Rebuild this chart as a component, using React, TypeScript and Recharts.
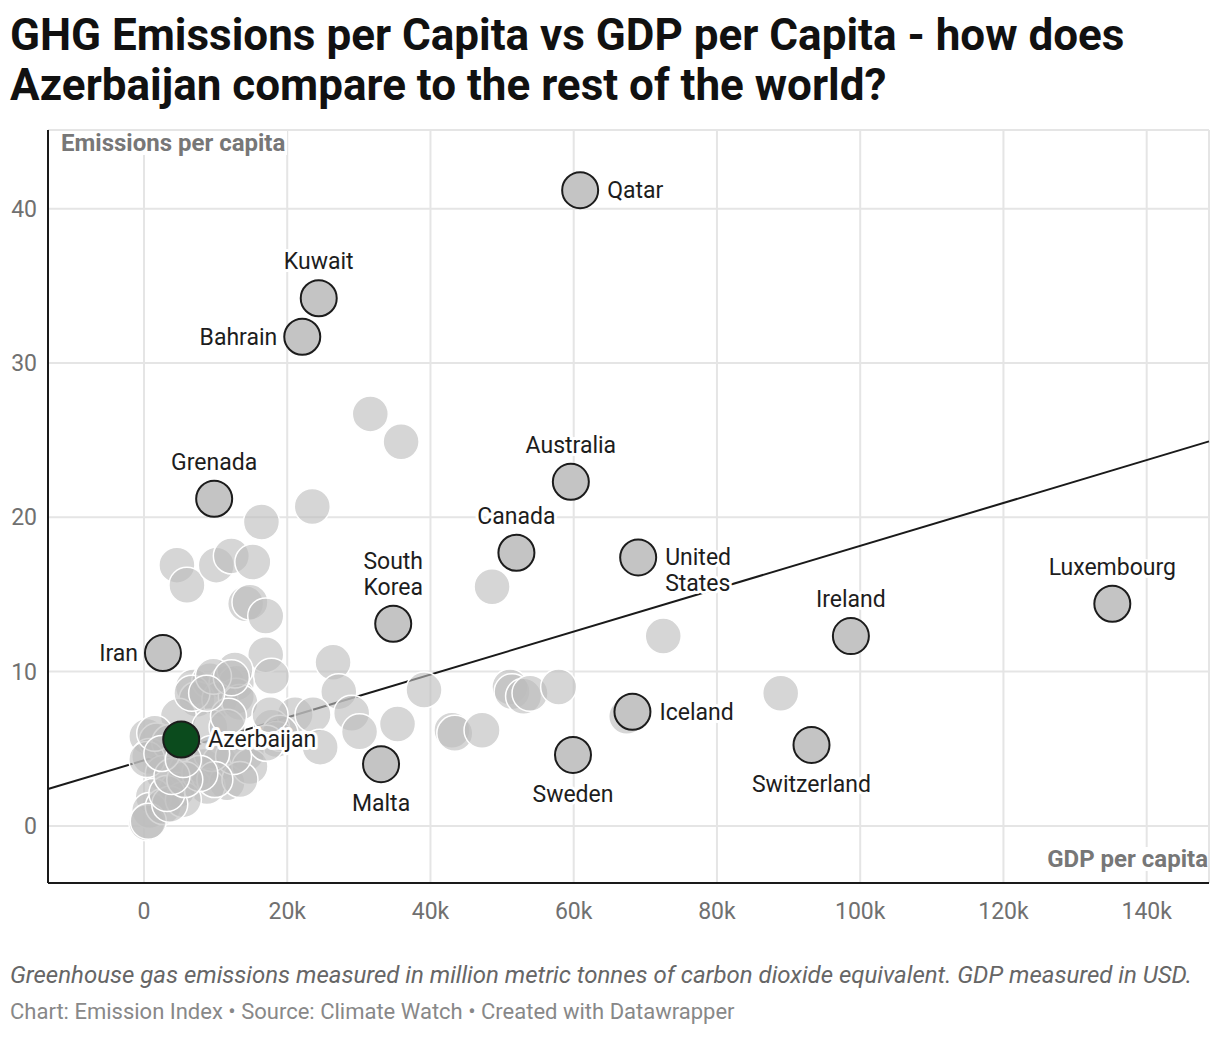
import { ScatterChart, Scatter, XAxis, YAxis, CartesianGrid, ReferenceLine } from "recharts";

// highlighted countries (GDP per capita in USD, emissions per capita)
const HIGHLIGHT_NAMES = [
  "Qatar", "Kuwait", "Bahrain", "Australia", "Grenada", "Canada", "United States",
  "South Korea", "Iran", "Luxembourg", "Ireland", "Iceland", "Switzerland", "Sweden", "Malta",
];
const HIGHLIGHT_GDP = [
  60900, 24400, 22100, 59600, 9800, 52000, 69000, 34800, 2650, 135200, 98700, 68200, 93200, 59900, 33100,
];
const HIGHLIGHT_EMISSIONS = [41.2, 34.2, 31.7, 22.3, 21.2, 17.7, 17.4, 13.1, 11.2, 14.4, 12.3, 7.4, 5.25, 4.6, 4.0];

const FOCUS_NAME = "Azerbaijan";
const FOCUS_GDP = 5200;
const FOCUS_EMISSIONS = 5.6;

// rest of the world (GDP per capita in thousand USD)
const OTHER_GDP_K = [
  31.6, 35.9, 23.5, 16.4, 4.6, 6.0, 10.1, 12.2, 15.2, 14.2, 14.8, 17.0, 17.0, 17.8, 26.4, 48.6, 27.2, 29.0, 30.1,
  39.1, 35.4, 43.0, 43.4, 47.2, 51.1, 51.4, 53.0, 53.9, 57.9, 21.1, 23.6, 24.6, 72.5, 88.9, 67.4, 17.8, 18.5, 19.0,
  6.9, 9.2, 11.6, 12.9, 7.4, 10.6, 12.9, 13.4, 4.8, 9.2, 11.6, 0.4, 1.8, 0.8, 3.6, 2.7, 6.0, 8.3, 10.6, 11.6, 8.8,
  4.6, 1.3, 0.8, 0.4, 2.7, 5.5, 14.3, 14.8, 13.4, 17.1, 12.5, 9.45, 12.7, 0.4, 1.5, 6.7, 9.7, 12.2, 0.6, 3.6, 3.2,
  9.9, 7.8, 5.7, 3.9, 11.8, 8.75, 17.6, 2.5, 5.5,
];
const OTHER_EMISSIONS = [
  26.7, 24.9, 20.7, 19.7, 16.9, 15.6, 16.9, 17.5, 17.1, 14.4, 14.5, 13.6, 11.1, 9.7, 10.6, 15.5, 8.7, 7.3, 6.1,
  8.8, 6.6, 6.2, 6.0, 6.2, 9.0, 8.7, 8.4, 8.6, 9.0, 7.2, 7.2, 5.1, 12.3, 8.6, 7.1, 6.4, 5.6, 6.0,
  9.0, 9.4, 9.25, 9.25, 8.2, 8.2, 8.4, 8.0, 7.1, 6.4, 6.4, 5.8, 5.5, 4.5, 5.4, 3.4, 3.6, 3.85, 4.1, 2.8, 2.55,
  2.3, 1.9, 1.0, 0.2, 1.25, 1.7, 4.7, 3.85, 3.0, 5.35, 4.5, 4.7, 10.1, 4.3, 6.0, 8.6, 9.7, 9.6, 0.3, 1.4, 2.1,
  3.0, 3.4, 3.0, 3.2, 7.1, 8.6, 7.2, 4.7, 4.3,
];

const X_TICKS = [0, 20000, 40000, 60000, 80000, 100000, 120000, 140000];
const Y_TICKS = [0, 10, 20, 30, 40];
const X_DOMAIN = [-13400, 148700];
const Y_DOMAIN = [-3.7, 45.1];

// linear trend line
const TREND_INTERCEPT = 4.25;
const TREND_SLOPE_PER_K = 0.139;

type Place = { pos: "top" | "bottom" | "left" | "right"; lines?: string[] };
const LABEL_PLACE: Record<string, Place> = {
  Qatar: { pos: "right" },
  Kuwait: { pos: "top" },
  Bahrain: { pos: "left" },
  Australia: { pos: "top" },
  Grenada: { pos: "top" },
  Canada: { pos: "top" },
  "United States": { pos: "right", lines: ["United", "States"] },
  "South Korea": { pos: "top", lines: ["South", "Korea"] },
  Iran: { pos: "left" },
  Luxembourg: { pos: "top" },
  Ireland: { pos: "top" },
  Iceland: { pos: "right" },
  Switzerland: { pos: "bottom" },
  Sweden: { pos: "bottom" },
  Malta: { pos: "bottom" },
  Azerbaijan: { pos: "right" },
};

const others = OTHER_GDP_K.map((g, i) => ({ gdp: g * 1000, emissions: OTHER_EMISSIONS[i] }));
const highlighted = HIGHLIGHT_NAMES.map((name, i) => ({
  name,
  gdp: HIGHLIGHT_GDP[i],
  emissions: HIGHLIGHT_EMISSIONS[i],
}));
const focus = [{ name: FOCUS_NAME, gdp: FOCUS_GDP, emissions: FOCUS_EMISSIONS }];
const labelled = [...highlighted, ...focus];

const trendAt = (gdp: number) => TREND_INTERCEPT + (TREND_SLOPE_PER_K * gdp) / 1000;

const FONT = "Roboto, 'Noto Sans', sans-serif";
const R = 18;

const OtherDot = (p: any) => (
  <circle cx={p.cx} cy={p.cy} r={R} fill="#bdbdbd" fillOpacity={0.62} stroke="#ffffff" strokeWidth={1.5} />
);
const HighlightDot = (p: any) => (
  <circle cx={p.cx} cy={p.cy} r={R} fill="#c4c4c4" stroke="#1c1c1c" strokeWidth={2} />
);
const FocusDot = (p: any) => (
  <circle cx={p.cx} cy={p.cy} r={R} fill="#0b4b1d" stroke="#1c1c1c" strokeWidth={2} />
);

const LabelText = (p: any) => {
  const { cx, cy, payload } = p;
  const place = LABEL_PLACE[payload.name];
  if (!place) return <g />;
  const lines = place.lines ?? [payload.name];
  const lh = 26;
  let x = cx;
  let y0 = cy;
  let anchor: "start" | "middle" | "end" = "middle";
  if (place.pos === "top") {
    y0 = cy - 29 - (lines.length - 1) * lh;
  } else if (place.pos === "bottom") {
    y0 = cy + 47;
  } else if (place.pos === "right") {
    x = cx + 27;
    y0 = cy + 8;
    anchor = "start";
  } else {
    x = cx - 25;
    y0 = cy + 8;
    anchor = "end";
  }
  return (
    <text
      x={x}
      y={y0}
      textAnchor={anchor}
      fontFamily={FONT}
      fontSize={23}
      fill="#1d1d1d"
      stroke="#ffffff"
      strokeWidth={6}
      strokeLinejoin="round"
      paintOrder="stroke"
    >
      {lines.map((l, i) => (
        <tspan key={l} x={x} y={y0 + i * lh}>
          {l}
        </tspan>
      ))}
    </text>
  );
};

const fmtX = (v: number) => (v === 0 ? "0" : `${v / 1000}k`);

export default function App() {
  return (
    <div
      style={{
        position: "absolute",
        left: 0,
        top: 0,
        width: 1220,
        height: 1038,
        background: "#fff",
        fontFamily: FONT,
      }}
    >
      <div
        style={{
          position: "absolute",
          left: 10,
          top: 10,
          fontSize: 44,
          lineHeight: "50px",
          fontWeight: 700,
          color: "#111",
          whiteSpace: "nowrap",
        }}
      >
        GHG Emissions per Capita vs GDP per Capita - how does
        <br />
        Azerbaijan compare to the rest of the world?
      </div>

      <div style={{ position: "absolute", left: 0, top: 0 }}>
        <ScatterChart width={1220} height={1038} margin={{ top: 130, right: 11, bottom: 115, left: 8 }}>
          <CartesianGrid stroke="#e5e5e5" strokeWidth={2} />
          <XAxis
            type="number"
            dataKey="gdp"
            domain={X_DOMAIN}
            ticks={X_TICKS}
            allowDataOverflow
            tickFormatter={fmtX}
            height={40}
            tickLine={false}
            tickSize={8}
            tickMargin={12}
            axisLine={{ stroke: "#1a1a1a", strokeWidth: 2 }}
            tick={{ fill: "#707070", fontSize: 23, fontFamily: FONT }}
          />
          <YAxis
            type="number"
            dataKey="emissions"
            domain={Y_DOMAIN}
            ticks={Y_TICKS}
            allowDataOverflow
            width={40}
            tickLine={false}
            tickSize={6}
            tickMargin={5}
            axisLine={{ stroke: "#1a1a1a", strokeWidth: 2 }}
            tick={{ fill: "#707070", fontSize: 23, fontFamily: FONT }}
          />
          <Scatter data={others} shape={OtherDot} isAnimationActive={false} />
          <Scatter data={highlighted} shape={HighlightDot} isAnimationActive={false} />
          <Scatter data={focus} shape={FocusDot} isAnimationActive={false} />
          <ReferenceLine
            segment={[
              { x: X_DOMAIN[0], y: trendAt(X_DOMAIN[0]) },
              { x: X_DOMAIN[1], y: trendAt(X_DOMAIN[1]) },
            ]}
            stroke="#1a1a1a"
            strokeWidth={2}
            ifOverflow="visible"
          />
          <Scatter data={labelled} shape={LabelText} isAnimationActive={false} />
        </ScatterChart>
      </div>

      <div
        style={{
          position: "absolute",
          left: 61,
          top: 131,
          fontSize: 24,
          lineHeight: "24px",
          fontWeight: 700,
          color: "#777",
          background: "#fff",
          paddingRight: 2,
        }}
      >
        Emissions per capita
      </div>
      <div
        style={{
          position: "absolute",
          right: 12,
          top: 847,
          fontSize: 24,
          lineHeight: "24px",
          fontWeight: 700,
          color: "#777",
          background: "#fff",
          paddingLeft: 2,
        }}
      >
        GDP per capita
      </div>

      <div
        style={{
          position: "absolute",
          left: 10,
          top: 963,
          fontSize: 24,
          lineHeight: "24px",
          fontStyle: "italic",
          color: "#666",
          whiteSpace: "nowrap",
        }}
      >
        Greenhouse gas emissions measured in million metric tonnes of carbon dioxide equivalent. GDP measured in USD.
      </div>
      <div
        style={{
          position: "absolute",
          left: 10,
          top: 1001,
          fontSize: 22,
          lineHeight: "22px",
          color: "#888",
          whiteSpace: "nowrap",
        }}
      >
        Chart: Emission Index • Source: Climate Watch • Created with Datawrapper
      </div>
    </div>
  );
}
